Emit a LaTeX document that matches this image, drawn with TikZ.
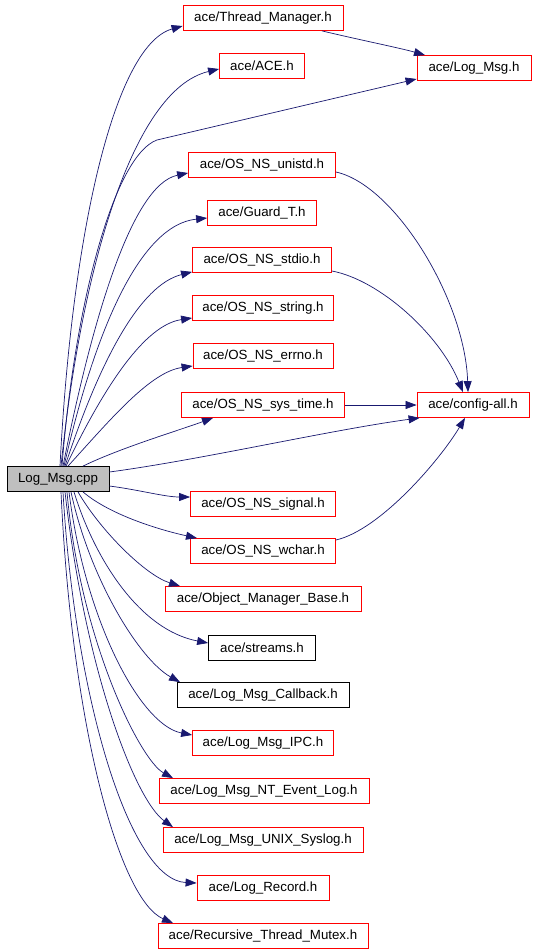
\documentclass[tikz,border=0pt]{standalone}
\usepackage{fontspec}
\setmainfont{Liberation Sans}
\usetikzlibrary{arrows.meta}
\definecolor{edgec}{HTML}{191970}
\definecolor{cppfill}{HTML}{BFBFBF}
\begin{document}
\begin{tikzpicture}[x=1pt,y=-1pt,
  box/.style={draw=red, line width=0.8pt, rectangle, minimum height=25pt, inner sep=0pt, font=\fontsize{13.3}{15}\selectfont, text=black},
  bbox/.style={box, draw=black},
  e/.style={draw=edgec, line width=0.7pt, -{Triangle[length=11pt,width=8pt]}}]
\useasboundingbox (0,0) rectangle (536,952);
\fill[white] (0,0) rectangle (536,952);

\node[bbox, fill=cppfill, minimum width=102pt] (cpp) at (58,479) {Log\_Msg.cpp};
\node[box, minimum width=160pt] (tm) at (263,18) {ace/Thread\_Manager.h};
\node[box, minimum width=85pt] (ace) at (262,66) {ace/ACE.h};
\node[box, minimum width=114pt] (lm) at (474,68) {ace/Log\_Msg.h};
\node[box, minimum width=147pt] (unistd) at (262,165) {ace/OS\_NS\_unistd.h};
\node[box, minimum width=109pt] (guard) at (262,213) {ace/Guard\_T.h};
\node[box, minimum width=139pt] (stdio) at (262,260) {ace/OS\_NS\_stdio.h};
\node[box, minimum width=141pt] (string) at (263,308) {ace/OS\_NS\_string.h};
\node[box, minimum width=140pt] (errno) at (263,356) {ace/OS\_NS\_errno.h};
\node[box, minimum width=163pt] (systime) at (263,405) {ace/OS\_NS\_sys\_time.h};
\node[box, minimum width=112pt] (cfg) at (473,405) {ace/config-all.h};
\node[box, minimum width=145pt] (signal) at (263,504) {ace/OS\_NS\_signal.h};
\node[box, minimum width=145pt] (wchar) at (263,551) {ace/OS\_NS\_wchar.h};
\node[box, minimum width=196pt] (omb) at (263,599) {ace/Object\_Manager\_Base.h};
\node[bbox, minimum width=107pt] (streams) at (262,648) {ace/streams.h};
\node[bbox, minimum width=172pt] (cb) at (263,695) {ace/Log\_Msg\_Callback.h};
\node[box, minimum width=141pt] (ipc) at (263,743) {ace/Log\_Msg\_IPC.h};
\node[box, minimum width=210pt] (nt) at (264,791) {ace/Log\_Msg\_NT\_Event\_Log.h};
\node[box, minimum width=200pt] (unix) at (263,840) {ace/Log\_Msg\_UNIX\_Syslog.h};
\node[box, minimum width=132pt] (rec) at (263,888) {ace/Log\_Record.h};
\node[box, minimum width=210pt] (rtm) at (263,936) {ace/Recursive\_Thread\_Mutex.h};

% top fan
\draw[e] ([xshift=2pt]cpp.north) .. controls (72,230) and (115,45) .. ([yshift=-8pt]tm.west);
\draw[e] ([xshift=3pt]cpp.north) .. controls (80,280) and (130,90) .. ([yshift=-3pt]ace.west);
\draw[e] ([xshift=4pt]cpp.north) .. controls (75,300) and (115,155) .. (157,140) -- ([yshift=-11pt]lm.west);
\draw[e] ([xshift=5pt]cpp.north) .. controls (90,330) and (130,185) .. ([yshift=-8pt]unistd.west);
\draw[e] ([xshift=6pt]cpp.north) .. controls (95,330) and (140,225) .. ([yshift=-5pt]guard.west);
\draw[e] ([xshift=7pt]cpp.north) .. controls (100,360) and (140,285) .. ([yshift=1pt]stdio.south west);
\draw[e] ([xshift=8pt]cpp.north) .. controls (105,385) and (145,325) .. ([yshift=-10pt]string.west);
\draw[e] ([xshift=10pt]cpp.north) .. controls (110,420) and (150,372) .. ([yshift=-10pt]errno.west);
\draw[e] ([xshift=25pt]cpp.north) .. controls (120,448) and (180,430) .. ([xshift=-50pt]systime.south);
\draw[e] ([yshift=7pt]cpp.east) .. controls (200,460) and (330,430) .. ([xshift=3pt]cfg.south west);
\draw[e] ([yshift=-7pt]cpp.east) .. controls (140,490) and (165,497) .. ([yshift=7pt]signal.west);

% bottom fan
\draw[e] ([xshift=25pt]cpp.south) .. controls (110,515) and (160,530) .. ([xshift=-66pt]wchar.north);
\draw[e] ([xshift=20pt]cpp.south) .. controls (100,530) and (145,575) .. ([xshift=-83pt]omb.north);
\draw[e] ([xshift=16pt]cpp.south) .. controls (95,560) and (140,630) .. ([yshift=5pt]streams.west);
\draw[e] ([xshift=13pt]cpp.south) .. controls (90,580) and (140,660) .. ([xshift=-83pt]cb.north);
\draw[e] ([xshift=11pt]cpp.south) .. controls (85,620) and (140,725) .. ([yshift=8pt]ipc.west);
\draw[e] ([xshift=9pt]cpp.south) .. controls (80,640) and (140,760) .. ([xshift=-91pt]nt.north);
\draw[e] ([xshift=7pt]cpp.south) .. controls (85,670) and (135,800) .. ([xshift=-90pt]unix.north);
\draw[e] ([xshift=5pt]cpp.south) .. controls (75,700) and (130,880) .. ([yshift=5pt]rec.west);
\draw[e] ([xshift=3pt]cpp.south) .. controls (72,730) and (120,900) .. ([xshift=-90pt]rtm.north);

% secondary
\draw[e] ([xshift=59pt]tm.south) .. controls (360,40) and (400,48) .. ([xshift=-49pt]lm.north);
\draw[e] ([yshift=-7pt]unistd.east) .. controls (395,185) and (465,300) .. ([xshift=-5pt]cfg.north);
\draw[e] ([yshift=-11pt]stdio.east) .. controls (380,280) and (440,335) .. ([xshift=-10pt]cfg.north);
\draw[e] (systime.east) -- (cfg.west);
\draw[e] ([yshift=11pt]wchar.east) .. controls (380,530) and (440,460) .. ([xshift=-8pt]cfg.south);
\end{tikzpicture}
\end{document}
